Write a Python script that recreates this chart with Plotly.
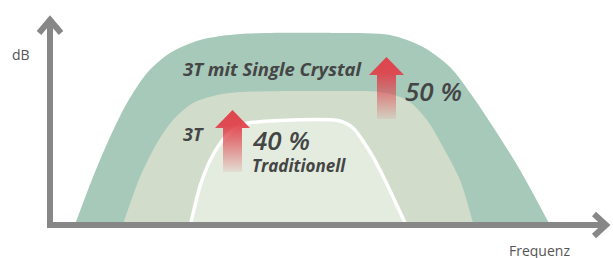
import plotly.graph_objects as go

# --- schematic curve data (x = frequency position, y = level in dB units above baseline) ---
outer_freq = [74, 93, 110, 127, 147, 170, 200, 240, 340, 390, 423, 450, 473, 497, 520, 551]
outer_db = [-2, 48, 88, 122, 152, 172, 185, 191, 192, 190, 178, 158, 128, 92, 55, -2]

middle_freq = [122, 140, 157, 173, 193, 217, 240, 340, 380, 407, 427, 443, 460, 474]
middle_db = [-2, 48, 82, 105, 122, 130, 133, 134, 133, 125, 105, 78, 45, -2]

inner_freq = [190, 201, 214, 228, 241, 257, 340, 353, 367, 380, 393, 407]
inner_db = [-2, 42, 72, 91, 100, 103, 104, 97, 78, 55, 28, -2]

# gain arrows: centre position, base level, tip level
arrow_centre = [232.5, 386.5]
arrow_base = [53, 106]
arrow_tip = [115, 168]

# axis extents
y_axis_top = 205
x_axis_end = 606

fig = go.Figure()

fig.add_trace(go.Scatter(x=outer_freq, y=outer_db, mode="lines", fill="toself",
                         fillcolor="#a7c9ba", line=dict(width=0, shape="spline", smoothing=0.8),
                         hoverinfo="skip"))
fig.add_trace(go.Scatter(x=middle_freq, y=middle_db, mode="lines", fill="toself",
                         fillcolor="#d1dccb", line=dict(width=0, shape="spline", smoothing=0.8),
                         hoverinfo="skip"))
fig.add_trace(go.Scatter(x=inner_freq, y=inner_db, mode="lines", fill="toself",
                         fillcolor="#e3ecdf", line=dict(width=3.5, color="white", shape="spline", smoothing=0.8),
                         hoverinfo="skip"))

# axes with chevron arrow heads
axis_color = "#878787"
fig.add_trace(go.Scatter(x=[50, 50], y=[-3, y_axis_top], mode="lines",
                         line=dict(color=axis_color, width=6), hoverinfo="skip"))
fig.add_trace(go.Scatter(x=[39, 50, 61], y=[y_axis_top - 13, y_axis_top, y_axis_top - 13], mode="lines",
                         line=dict(color=axis_color, width=6), hoverinfo="skip"))
fig.add_trace(go.Scatter(x=[47, x_axis_end], y=[0, 0], mode="lines",
                         line=dict(color=axis_color, width=6), hoverinfo="skip"))
fig.add_trace(go.Scatter(x=[x_axis_end - 12, x_axis_end, x_axis_end - 12], y=[11, 0, -11], mode="lines",
                         line=dict(color=axis_color, width=6), hoverinfo="skip"))

# red gradient arrows
head_h, head_w, shaft_w = 18, 17.5, 9.5
for cx, b, t in zip(arrow_centre, arrow_base, arrow_tip):
    hb = t - head_h
    xs = [cx - shaft_w, cx - shaft_w, cx - head_w, cx, cx + head_w, cx + shaft_w, cx + shaft_w, cx - shaft_w]
    ys = [b, hb, hb, t, hb, hb, b, b]
    fig.add_trace(go.Scatter(
        x=xs, y=ys, mode="lines", fill="toself", line=dict(width=0),
        fillgradient=dict(type="vertical", start=b, stop=t,
                          colorscale=[[0, "rgba(224,62,72,0.08)"], [0.45, "rgba(224,62,72,0.6)"],
                                      [0.75, "rgba(224,62,72,0.92)"], [1, "rgba(224,62,72,0.95)"]]),
        hoverinfo="skip"))

text_color = "#454545"
def label(x, y, s, size, xanchor="left", weight=700, italic=True, color=text_color):
    fig.add_annotation(x=x, y=y, text=s, showarrow=False, xanchor=xanchor, yanchor="middle",
                       font=dict(family="Open Sans", size=size, color=color,
                                 weight=weight,
                                 style="italic" if italic else "normal"))

label(181, 157, "3T mit Single Crystal", 18.5)
label(181, 91, "3T", 18)
label(250, 85, "40 %", 26, weight=600)
label(250, 60, "Traditionell", 17)
label(403, 134, "50 %", 26, weight=600)
label(21, 171, "dB", 14, xanchor="center", weight=400, italic=False, color="#555555")
label(539, -25, "Frequenz", 14, xanchor="center", weight=400, italic=False, color="#555555")

fig.update_layout(
    width=613, height=258, margin=dict(l=0, r=0, t=0, b=0),
    paper_bgcolor="white", plot_bgcolor="white", showlegend=False,
    xaxis=dict(range=[0, 613], visible=False, fixedrange=True),
    yaxis=dict(range=[-33, 225], visible=False, fixedrange=True),
)

fig.write_html("out.html", config={"displayModeBar": False},
               post_script="document.body.style.margin='0';document.body.style.overflow='hidden';")
